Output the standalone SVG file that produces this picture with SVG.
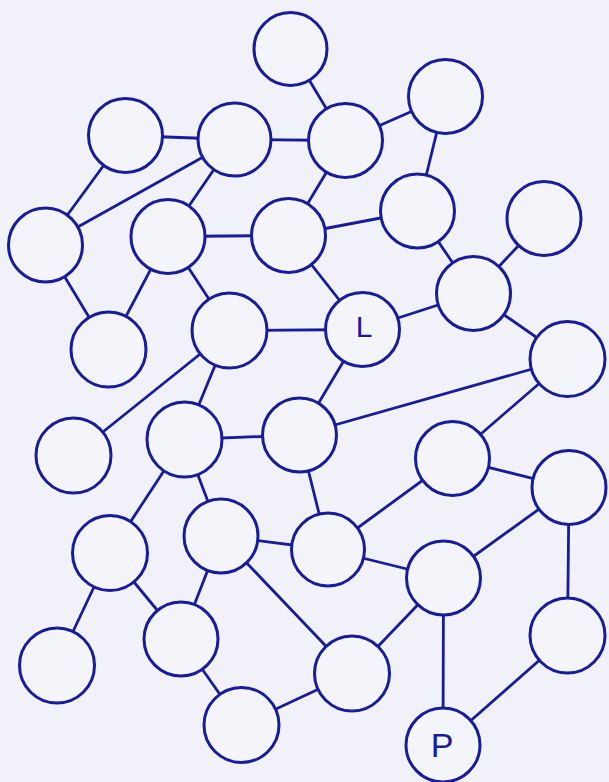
<svg xmlns="http://www.w3.org/2000/svg" width="609" height="782" viewBox="0 0 609 782">
<style>
.bg{fill:#f1f2f9}
.n{fill:#f4f5fb;stroke:#181c98;stroke-width:3}
.e line{stroke:#181c98;stroke-width:2.8;stroke-linecap:round}
.lbl{font-family:"Liberation Sans","DejaVu Sans",sans-serif;fill:#181c98;text-anchor:middle}
</style>
<rect class="bg" x="0" y="0" width="609" height="782"/>
<g id="connectors" class="e">
<line x1="290.5" y1="49" x2="345.5" y2="140.5"/>
<line x1="125.5" y1="135.5" x2="234.5" y2="139.5"/>
<line x1="125.5" y1="135.5" x2="45.5" y2="245"/>
<line x1="234.5" y1="139.5" x2="45.5" y2="245"/>
<line x1="234.5" y1="139.5" x2="168" y2="236.5"/>
<line x1="234.5" y1="139.5" x2="345.5" y2="140.5"/>
<line x1="168" y1="236.5" x2="288.5" y2="235.5"/>
<line x1="345.5" y1="140.5" x2="445.5" y2="96.5"/>
<line x1="445.5" y1="96.5" x2="417.5" y2="211"/>
<line x1="345.5" y1="140.5" x2="288.5" y2="235.5"/>
<line x1="288.5" y1="235.5" x2="417.5" y2="211"/>
<line x1="417.5" y1="211" x2="473.5" y2="293.5"/>
<line x1="544" y1="218.5" x2="473.5" y2="293.5"/>
<line x1="45.5" y1="245" x2="108.5" y2="349.5"/>
<line x1="168" y1="236.5" x2="108.5" y2="349.5"/>
<line x1="168" y1="236.5" x2="229.5" y2="330.5"/>
<line x1="229.5" y1="330.5" x2="362.5" y2="329.5"/>
<line x1="229.5" y1="330.5" x2="73.5" y2="455.5"/>
<line x1="229.5" y1="330.5" x2="184.5" y2="439.5"/>
<line x1="184.5" y1="439.5" x2="299.5" y2="435"/>
<line x1="184.5" y1="439.5" x2="221" y2="536"/>
<line x1="184.5" y1="439.5" x2="110" y2="553"/>
<line x1="288.5" y1="235.5" x2="362.5" y2="329.5"/>
<line x1="362.5" y1="329.5" x2="473.5" y2="293.5"/>
<line x1="362.5" y1="329.5" x2="299.5" y2="435"/>
<line x1="473.5" y1="293.5" x2="567.5" y2="359"/>
<line x1="567.5" y1="359" x2="299.5" y2="435"/>
<line x1="567.5" y1="359" x2="452.5" y2="458.5"/>
<line x1="452.5" y1="458.5" x2="569" y2="487.5"/>
<line x1="452.5" y1="458.5" x2="328" y2="549.5"/>
<line x1="299.5" y1="435" x2="328" y2="549.5"/>
<line x1="569" y1="487.5" x2="443.5" y2="578"/>
<line x1="110" y1="553" x2="57" y2="665.5"/>
<line x1="110" y1="553" x2="181" y2="639"/>
<line x1="221" y1="536" x2="181" y2="639"/>
<line x1="221" y1="536" x2="328" y2="549.5"/>
<line x1="221" y1="536" x2="352" y2="673.5"/>
<line x1="181" y1="639" x2="241.5" y2="725"/>
<line x1="241.5" y1="725" x2="352" y2="673.5"/>
<line x1="328" y1="549.5" x2="443.5" y2="578"/>
<line x1="443.5" y1="578" x2="352" y2="673.5"/>
<line x1="443.5" y1="578" x2="443" y2="745"/>
<line x1="569" y1="487.5" x2="567.5" y2="635.5"/>
<line x1="567.5" y1="635.5" x2="443" y2="745"/>
</g>
<g id="nA"><circle class="n" cx="290.5" cy="49" r="36.5"/></g>
<g id="nB"><circle class="n" cx="125.5" cy="135.5" r="37"/></g>
<g id="nC"><circle class="n" cx="234.5" cy="139.5" r="36.5"/></g>
<g id="nD"><circle class="n" cx="45.5" cy="245" r="37"/></g>
<g id="nE"><circle class="n" cx="168" cy="236.5" r="37"/></g>
<g id="nF"><circle class="n" cx="288.5" cy="235.5" r="37"/></g>
<g id="nG"><circle class="n" cx="345.5" cy="140.5" r="37"/></g>
<g id="nH"><circle class="n" cx="445.5" cy="96.5" r="37"/></g>
<g id="nI"><circle class="n" cx="417.5" cy="211" r="37"/></g>
<g id="nJ"><circle class="n" cx="544" cy="218.5" r="37"/></g>
<g id="nK1"><circle class="n" cx="473.5" cy="293.5" r="37"/></g>
<g id="nL"><circle class="n" cx="362.5" cy="329.5" r="37"/><text class="lbl" x="364" y="337" font-size="30">L</text></g>
<g id="nK"><circle class="n" cx="567.5" cy="359" r="37.5"/></g>
<g id="nM"><circle class="n" cx="299.5" cy="435" r="37"/></g>
<g id="nN"><circle class="n" cx="452.5" cy="458.5" r="37"/></g>
<g id="nO"><circle class="n" cx="569" cy="487.5" r="37"/></g>
<g id="nQ"><circle class="n" cx="229.5" cy="330.5" r="37.5"/></g>
<g id="nR"><circle class="n" cx="108.5" cy="349.5" r="37.5"/></g>
<g id="nS"><circle class="n" cx="73.5" cy="455.5" r="37.5"/></g>
<g id="nT"><circle class="n" cx="184.5" cy="439.5" r="37.5"/></g>
<g id="nU2"><circle class="n" cx="110" cy="553" r="37.5"/></g>
<g id="nU"><circle class="n" cx="221" cy="536" r="37"/></g>
<g id="nV"><circle class="n" cx="57" cy="665.5" r="37.5"/></g>
<g id="nW"><circle class="n" cx="181" cy="639" r="37"/></g>
<g id="nX"><circle class="n" cx="241.5" cy="725" r="37.5"/></g>
<g id="nY"><circle class="n" cx="328" cy="549.5" r="36.5"/></g>
<g id="nZ"><circle class="n" cx="443.5" cy="578" r="37"/></g>
<g id="nAA"><circle class="n" cx="352" cy="673.5" r="37.5"/></g>
<g id="nAB"><circle class="n" cx="567.5" cy="635.5" r="37.5"/></g>
<g id="nP"><circle class="n" cx="443" cy="745" r="37"/><text class="lbl" x="442" y="757" font-size="34">P</text></g>
</svg>
